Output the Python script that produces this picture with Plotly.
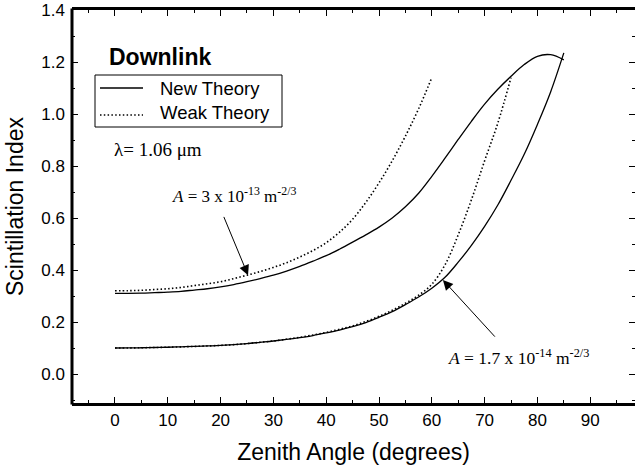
import plotly.graph_objects as go

# ---- data (zenith angle every 2.5 degrees) ----
x_hi_new = [0, 2.5, 5, 7.5, 10, 12.5, 15, 17.5, 20, 22.5, 25, 27.5, 30, 32.5, 35, 37.5, 40, 42.5,
            45, 47.5, 50, 52.5, 55, 57.5, 60, 62.5, 65, 67.5, 70, 72.5, 75, 77.5, 80, 82.5, 85]
y_hi_new = [0.31, 0.3102, 0.311, 0.313, 0.315, 0.318, 0.323, 0.328, 0.335, 0.344, 0.355, 0.367,
            0.38, 0.396, 0.414, 0.434, 0.455, 0.48, 0.507, 0.535, 0.565, 0.6, 0.643, 0.695, 0.76,
            0.83, 0.902, 0.972, 1.038, 1.095, 1.145, 1.19, 1.222, 1.228, 1.208]

x_hi_weak = [0, 2.5, 5, 7.5, 10, 12.5, 15, 17.5, 20, 22.5, 25, 27.5, 30, 32.5, 35, 37.5, 40,
             42.5, 45, 47.5, 50, 52.5, 55, 57.5, 60]
y_hi_weak = [0.32, 0.3205, 0.322, 0.325, 0.328, 0.333, 0.34, 0.347, 0.355, 0.367, 0.38, 0.394,
             0.41, 0.428, 0.45, 0.475, 0.505, 0.545, 0.595, 0.66, 0.735, 0.82, 0.915, 1.02, 1.14]

x_lo_new = [0, 2.5, 5, 7.5, 10, 12.5, 15, 17.5, 20, 22.5, 25, 27.5, 30, 32.5, 35, 37.5, 40, 42.5,
            45, 47.5, 50, 52.5, 55, 57.5, 60, 62.5, 65, 67.5, 70, 72.5, 75, 77.5, 80, 82.5, 85]
y_lo_new = [0.10, 0.1002, 0.101, 0.102, 0.103, 0.1045, 0.106, 0.108, 0.11, 0.113, 0.117, 0.122,
            0.127, 0.133, 0.14, 0.148, 0.158, 0.169, 0.182, 0.198, 0.218, 0.24, 0.267, 0.296,
            0.33, 0.372, 0.43, 0.495, 0.568, 0.65, 0.745, 0.845, 0.96, 1.085, 1.235]

x_lo_weak = [0, 2.5, 5, 7.5, 10, 12.5, 15, 17.5, 20, 22.5, 25, 27.5, 30, 32.5, 35, 37.5, 40,
             42.5, 45, 47.5, 50, 52.5, 55, 57.5, 60, 62.5, 65, 67.5, 70, 72.5, 75]
y_lo_weak = [0.10, 0.1002, 0.101, 0.102, 0.103, 0.1045, 0.106, 0.108, 0.11, 0.113, 0.117, 0.122,
             0.127, 0.134, 0.141, 0.15, 0.16, 0.172, 0.185, 0.202, 0.222, 0.245, 0.272, 0.303,
             0.345, 0.42, 0.535, 0.67, 0.82, 0.965, 1.14]

x_tickvals = [0, 10, 20, 30, 40, 50, 60, 70, 80, 90]
y_tickvals = [0.0, 0.2, 0.4, 0.6, 0.8, 1.0, 1.2, 1.4]
y_ticktext = ["0.0", "0.2", "0.4", "0.6", "0.8", "1.0", "1.2", "1.4"]
legend_labels = ["New Theory", "Weak Theory"]

X_RANGE = [-8.14, 98.48]
Y_RANGE = [-0.1115, 1.4]

SANS = "Liberation Sans, Arial, sans-serif"
SERIF = "Liberation Serif, Times New Roman, serif"
DOT = "1.5px,2.3px"
SOLID_W = 1.3
DOT_W = 1.6

fig = go.Figure()
fig.add_trace(go.Scatter(x=x_hi_new, y=y_hi_new, mode="lines", name=legend_labels[0],
                         line=dict(color="black", width=SOLID_W, shape="spline"), showlegend=False))
fig.add_trace(go.Scatter(x=x_hi_weak, y=y_hi_weak, mode="lines", name=legend_labels[1],
                         line=dict(color="black", width=DOT_W, dash=DOT, shape="spline"), showlegend=False))
fig.add_trace(go.Scatter(x=x_lo_new, y=y_lo_new, mode="lines", name=legend_labels[0],
                         line=dict(color="black", width=SOLID_W, shape="spline"), showlegend=False))
fig.add_trace(go.Scatter(x=x_lo_weak, y=y_lo_weak, mode="lines", name=legend_labels[1],
                         line=dict(color="black", width=DOT_W, dash=DOT, shape="spline"), showlegend=False))

tickfont = dict(family=SANS, size=17, color="black")

fig.update_layout(
    width=635, height=468,
    margin=dict(l=72, r=0, t=10, b=65),
    paper_bgcolor="white", plot_bgcolor="white",
    showlegend=False,
    xaxis=dict(range=X_RANGE, tickvals=x_tickvals, ticks="inside", ticklen=6, tickwidth=1,
               tickcolor="black", showline=True, linewidth=3, linecolor="black",
               mirror="ticks", showgrid=False, zeroline=False, tickfont=tickfont,
               minor=dict(dtick=5, tick0=0, ticks="inside", ticklen=3, tickcolor="black"),
               title=dict(text="Zenith Angle (degrees)",
                          font=dict(family=SANS, size=23, color="black"), standoff=15)),
    yaxis=dict(range=Y_RANGE, tickvals=y_tickvals, ticktext=y_ticktext, ticks="inside",
               ticklen=6, tickwidth=1, tickcolor="black", showline=False,
               mirror="ticks", showgrid=False, zeroline=False,
               tickfont=tickfont, ticklabelstandoff=6,
               minor=dict(dtick=0.1, tick0=0, ticks="inside", ticklen=3, tickcolor="black"),
               title=dict(text="Scintillation Index",
                          font=dict(family=SANS, size=23, color="black"), standoff=11)),
)

# left spine (right side has ticks only, like the reference)
fig.add_shape(type="line", xref="paper", yref="paper", x0=0, x1=0, y0=-0.004, y1=1.004,
              line=dict(color="black", width=3), layer="above")

# manual legend box
def px_x(p):
    return (p - 72) / 563.0

def px_y(p):
    return (403 - p) / 393.0

fig.add_shape(type="rect", xref="paper", yref="paper", x0=px_x(95), x1=px_x(282),
              y0=px_y(127), y1=px_y(75), line=dict(color="black", width=1), fillcolor="white",
              layer="above")
fig.add_shape(type="line", xref="paper", yref="paper", x0=px_x(100), x1=px_x(143),
              y0=px_y(88), y1=px_y(88), line=dict(color="black", width=SOLID_W), layer="above")
fig.add_shape(type="line", xref="paper", yref="paper", x0=px_x(100), x1=px_x(143),
              y0=px_y(115), y1=px_y(115), line=dict(color="black", width=DOT_W, dash=DOT),
              layer="above")
fig.add_annotation(x=px_x(158), y=px_y(88), xref="paper", yref="paper", text=legend_labels[0],
                   showarrow=False, xanchor="left", yanchor="middle",
                   font=dict(family=SANS, size=18.5, color="black"))
fig.add_annotation(x=px_x(158), y=px_y(113), xref="paper", yref="paper", text=legend_labels[1],
                   showarrow=False, xanchor="left", yanchor="middle",
                   font=dict(family=SANS, size=18.5, color="black"))

fig.add_annotation(x=-1.5, y=1.22, xref="x", yref="y", text="<b>Downlink</b>", showarrow=False,
                   xanchor="left", yanchor="middle", font=dict(family=SANS, size=23, color="black"))
fig.add_annotation(x=-0.6, y=0.862, xref="x", yref="y", text="λ= 1.06 μm", showarrow=False,
                   xanchor="left", yanchor="middle", font=dict(family=SERIF, size=19, color="black"))
fig.add_annotation(x=10.4, y=0.69, xref="x", yref="y",
                   text="<i>A</i> = 3 x 10<sup>-13</sup> m<sup>-2/3</sup>", showarrow=False,
                   xanchor="left", yanchor="middle", font=dict(family=SERIF, size=17, color="black"))
fig.add_annotation(x=62.6, y=0.064, xref="x", yref="y",
                   text="<i>A</i> = 1.7 x 10<sup>-14</sup> m<sup>-2/3</sup>", showarrow=False,
                   xanchor="left", yanchor="middle", font=dict(family=SERIF, size=17.5, color="black"))
# arrows
fig.add_annotation(x=25.2, y=0.38, ax=20.5, ay=0.61, xref="x", yref="y", axref="x", ayref="y",
                   text="", showarrow=True, arrowhead=2, arrowsize=2, arrowwidth=1,
                   arrowcolor="black")
fig.add_annotation(x=62.1, y=0.362, ax=72.2, ay=0.138, xref="x", yref="y", axref="x", ayref="y",
                   text="", showarrow=True, arrowhead=2, arrowsize=2, arrowwidth=1,
                   arrowcolor="black")

fig.write_html("out.html")
